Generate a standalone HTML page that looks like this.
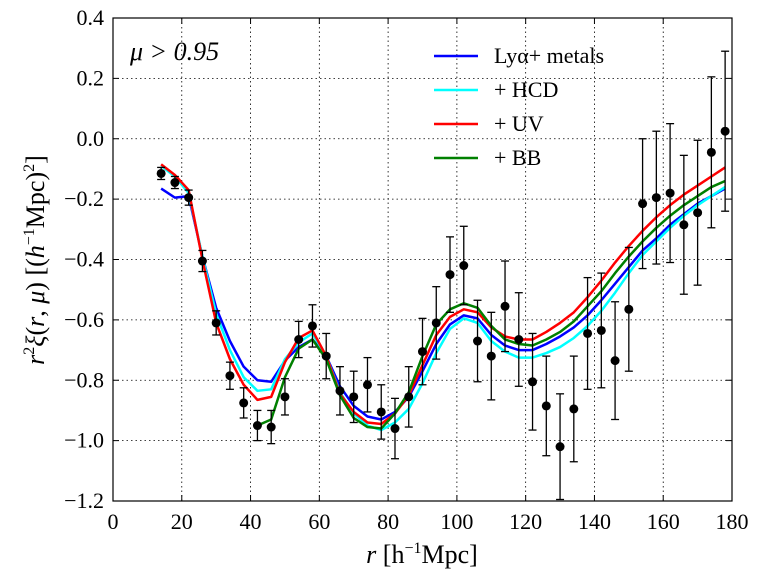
<!DOCTYPE html>
<html><head><meta charset="utf-8"><style>
body{margin:0;background:#fff}
svg text{font-family:"Liberation Serif","DejaVu Serif",serif;fill:#000}
</style></head><body>
<svg id="chart" width="763" height="581" xmlns="http://www.w3.org/2000/svg">
<rect width="763" height="581" fill="#fff"/>
<g id="grid"></g>
<g id="series"></g>
<g id="points"></g>
<rect x="113" y="18" width="619" height="483" fill="none" stroke="#000" stroke-width="1.2"/>
<g id="ticks"></g>
<text x="130" y="60" font-size="26" font-style="italic">μ &gt; 0.95</text>
<g id="legend"></g>
<text x="422" y="563" font-size="26" text-anchor="middle"><tspan font-style="italic">r</tspan> [h<tspan font-size="16" dy="-10">−1</tspan><tspan dy="10">Mpc]</tspan></text>
<text transform="translate(44,260) rotate(-90)" font-size="26" text-anchor="middle"><tspan font-style="italic">r</tspan><tspan font-size="16" dy="-10">2</tspan><tspan dy="10" font-style="italic">ξ</tspan>(<tspan font-style="italic">r</tspan>, <tspan font-style="italic">μ</tspan>) [(<tspan font-style="italic">h</tspan><tspan font-size="16" dy="-10">−1</tspan><tspan dy="10">Mpc)</tspan><tspan font-size="16" dy="-10">2</tspan><tspan dy="10">]</tspan></text>
</svg>
<script>
const rVals=[14,18,22,26,30,34,38,42,46,50,54,58,62,66,70,74,78,82,86,90,94,98,102,106,110,114,118,122,126,130,134,138,142,146,150,154,158,162,166,170,174,178];
const dataY=[-0.115,-0.145,-0.195,-0.405,-0.61,-0.785,-0.875,-0.95,-0.955,-0.855,-0.665,-0.62,-0.72,-0.835,-0.855,-0.815,-0.905,-0.96,-0.855,-0.705,-0.61,-0.45,-0.42,-0.67,-0.72,-0.555,-0.665,-0.805,-0.885,-1.02,-0.895,-0.645,-0.635,-0.735,-0.565,-0.215,-0.195,-0.18,-0.285,-0.245,-0.045,0.025];
const dataErr=[0.02,0.02,0.025,0.035,0.04,0.045,0.05,0.05,0.055,0.06,0.06,0.07,0.075,0.08,0.085,0.09,0.09,0.1,0.1,0.11,0.12,0.125,0.13,0.135,0.145,0.15,0.155,0.16,0.165,0.175,0.175,0.185,0.19,0.195,0.205,0.215,0.22,0.23,0.23,0.24,0.25,0.265];
const blueY=[-0.165,-0.195,-0.19,-0.39,-0.56,-0.67,-0.755,-0.8,-0.805,-0.735,-0.69,-0.665,-0.72,-0.82,-0.885,-0.92,-0.93,-0.905,-0.855,-0.77,-0.68,-0.615,-0.585,-0.595,-0.65,-0.685,-0.7,-0.7,-0.68,-0.655,-0.625,-0.585,-0.535,-0.48,-0.425,-0.37,-0.33,-0.285,-0.25,-0.215,-0.19,-0.165];
const cyanY=[-0.09,-0.125,-0.18,-0.39,-0.58,-0.7,-0.79,-0.835,-0.83,-0.73,-0.675,-0.645,-0.72,-0.84,-0.91,-0.95,-0.965,-0.94,-0.895,-0.81,-0.71,-0.63,-0.595,-0.61,-0.67,-0.705,-0.725,-0.725,-0.71,-0.69,-0.66,-0.62,-0.57,-0.51,-0.445,-0.385,-0.34,-0.295,-0.255,-0.22,-0.19,-0.16];
const redY=[-0.085,-0.12,-0.17,-0.4,-0.61,-0.73,-0.815,-0.865,-0.855,-0.74,-0.66,-0.635,-0.72,-0.845,-0.905,-0.94,-0.945,-0.91,-0.85,-0.75,-0.65,-0.59,-0.565,-0.575,-0.625,-0.655,-0.665,-0.665,-0.64,-0.61,-0.575,-0.525,-0.47,-0.41,-0.355,-0.305,-0.26,-0.22,-0.185,-0.155,-0.125,-0.095];
const greenR=[42,46,50,54,58,62,66,70,74,78,82,86,90,94,98,102,106,110,114,118,122,126,130,134,138,142,146,150,154,158,162,166,170,174,178];
const greenY=[-0.95,-0.93,-0.79,-0.695,-0.665,-0.73,-0.85,-0.925,-0.955,-0.96,-0.91,-0.84,-0.72,-0.615,-0.565,-0.545,-0.56,-0.62,-0.665,-0.68,-0.685,-0.665,-0.64,-0.605,-0.555,-0.505,-0.445,-0.39,-0.34,-0.295,-0.255,-0.22,-0.19,-0.16,-0.14];
const xTicks=[0,20,40,60,80,100,120,140,160,180];
const yTicks=[0.4,0.2,0.0,-0.2,-0.4,-0.6,-0.8,-1.0,-1.2];
const yTickLabels=["0.4","0.2","0.0","−0.2","−0.4","−0.6","−0.8","−1.0","−1.2"];
const legendLabels=["Lyα+ metals","+ HCD","+ UV","+ BB"];
const legendColors=["#0000ff","#00ffff","#ff0000","#008000"];

const NS="http://www.w3.org/2000/svg";
const X0=113,X1=732,Y0=18,Y1=501;
const xs=r=>X0+(r-0)/180*(X1-X0);
const ys=v=>Y1-(v+1.2)/1.6*(Y1-Y0);
function mk(tag,attrs,parent){const e=document.createElementNS(NS,tag);for(const k in attrs)e.setAttribute(k,attrs[k]);parent.appendChild(e);return e;}
const grid=document.getElementById('grid'),ticks=document.getElementById('ticks');
xTicks.forEach((t,i)=>{
  const x=xs(t);
  if(i>0&&i<xTicks.length-1){const g=mk('line',{x1:x,x2:x,y1:Y0,y2:Y1,stroke:'#000','stroke-width':0.8,'stroke-dasharray':'1.5,3'},grid);
  
  }
  const a=mk('line',{x1:x,x2:x,y1:Y1,y2:Y1-6,stroke:'#000'},ticks);
  
  
  mk('line',{x1:x,x2:x,y1:Y0,y2:Y0+6,stroke:'#000'},ticks);
  const tx=mk('text',{x:x,y:529,'font-size':22,'text-anchor':'middle'},ticks);tx.textContent=t;
  
  
});
yTicks.forEach((t,i)=>{
  const y=ys(t);
  if(i>0&&i<yTicks.length-1){const g=mk('line',{x1:X0,x2:X1,y1:y,y2:y,stroke:'#000','stroke-width':0.8,'stroke-dasharray':'1.5,3'},grid);
  
  }
  const a=mk('line',{x1:X0,x2:X0+6,y1:y,y2:y,stroke:'#000'},ticks);
  
  
  mk('line',{x1:X1,x2:X1-6,y1:y,y2:y,stroke:'#000'},ticks);
  const tx=mk('text',{x:104,y:y+7,'font-size':22,'text-anchor':'end'},ticks);tx.textContent=yTickLabels[i];
  
  
});
const series=document.getElementById('series');
function line(rs,vs,color,name){
  const p=mk('polyline',{points:rs.map((r,i)=>xs(r)+','+ys(vs[i])).join(' '),fill:'none',stroke:color,'stroke-width':2.5,'stroke-linejoin':'round'},series);
  
  
}
line(rVals,blueY,legendColors[0],'line-lya-metals');
line(rVals,cyanY,legendColors[1],'line-hcd');
line(rVals,redY,legendColors[2],'line-uv');
line(greenR,greenY,legendColors[3],'line-bb');
const pts=document.getElementById('points');
rVals.forEach((r,i)=>{
  const x=xs(r),yt=ys(dataY[i]+dataErr[i]),yb=ys(dataY[i]-dataErr[i]);
  const g=mk('g',{},pts);
  
  
  mk('line',{x1:x,x2:x,y1:yt,y2:yb,stroke:'#000','stroke-width':1.3},g);
  mk('line',{x1:x-4,x2:x+4,y1:yt,y2:yt,stroke:'#000','stroke-width':1.3},g);
  mk('line',{x1:x-4,x2:x+4,y1:yb,y2:yb,stroke:'#000','stroke-width':1.3},g);
  mk('circle',{cx:x,cy:ys(dataY[i]),r:4.5,fill:'#000'},g);
});
const leg=document.getElementById('legend');
legendLabels.forEach((l,i)=>{
  const y=56+i*34;
  const g=mk('g',{},leg);
  
  
  mk('line',{x1:434,x2:478,y1:y,y2:y,stroke:legendColors[i],'stroke-width':2.5},g);
  const t=mk('text',{x:494,y:y+7,'font-size':22},g);t.textContent=l;
});
</script>
</body></html>
